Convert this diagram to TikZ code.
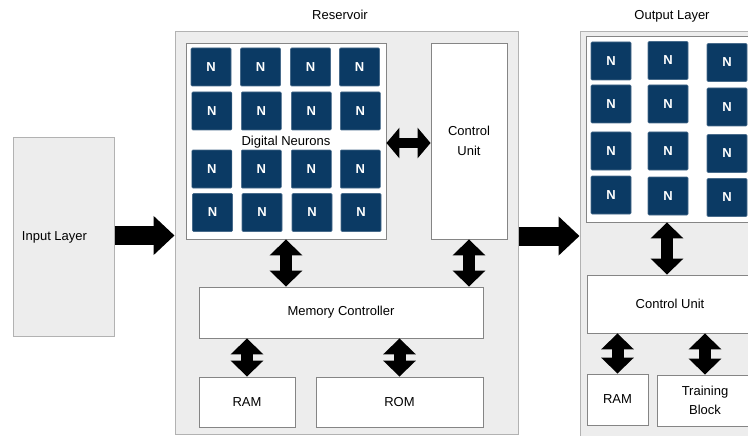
\documentclass[tikz,border=0pt]{standalone}
\usepackage{fontspec}
\setmainfont{Liberation Sans}
\usetikzlibrary{arrows.meta}

\definecolor{panelgray}{HTML}{EDEDED}
\definecolor{edgegray}{HTML}{B2B2B2}
\definecolor{boxedge}{HTML}{858585}
\definecolor{navy}{HTML}{0B3A64}

\tikzset{
  layer/.style={draw=edgegray, fill=panelgray, line width=1pt, inner sep=0pt},
  unit/.style={draw=boxedge, fill=white, line width=0.9pt, align=center, inner sep=0pt},
  neuron/.style={draw=navy!75!white, fill=navy, line width=0.6pt, minimum width=40pt,
    minimum height=38pt, text=white, font=\fontsize{13}{15}\selectfont\bfseries,
    inner sep=0pt, rounded corners=1pt},
  caption/.style={inner sep=0pt},
  biarrow/.style={line width=12pt,
    {Triangle[length=16pt,width=32pt]}-{Triangle[length=16pt,width=32pt]}},
  sidearrow/.style={line width=10pt,
    {Triangle[length=13pt,width=30pt]}-{Triangle[length=13pt,width=30pt]}},
  flowarrow/.style={line width=19pt, -{Triangle[length=21pt,width=38pt]}},
}

\begin{document}
\begin{tikzpicture}[x=1pt, y=-1pt, font=\fontsize{13}{19.5}\selectfont]
\useasboundingbox (0,0) rectangle (748,436);
\clip (0,0) rectangle (748,436);

% Input layer
\node[layer, minimum width=101pt, minimum height=198pt,
      label={[caption, xshift=-9pt]center:Input Layer}] (inp) at (63.5,237) {};

% Reservoir
\node[caption] (restitle) at (340,15) {Reservoir};
\node[layer, minimum width=343pt, minimum height=402pt] (res) at (346.5,233) {};
\node[unit, minimum width=200pt, minimum height=196pt] (neu) at (286,141) {};
\foreach \r/\y in {1/67, 2/111, 3/169, 4/212.5}{
  \foreach \c/\x in {1/211, 2/260.5, 3/310.5, 4/359.5}{
    \pgfmathsetmacro{\dx}{\r==4 ? 1.5 : (\r==1 ? 0 : 0.8)}
    \node[neuron] (n\r\c) at (\x+\dx,\y) {N};
  }
}
\node[caption] (digital) at (286,142) {Digital Neurons};
\node[unit, minimum width=76pt, minimum height=196pt] (ctrl) at (469,141) {Control\\Unit};
\node[unit, minimum width=284pt, minimum height=51pt] (mem) at (341,312.5) {Memory Controller};
\node[unit, minimum width=96pt, minimum height=50pt] (ram) at (247,402) {RAM};
\node[unit, minimum width=167pt, minimum height=50pt] (rom) at (399.5,402) {ROM};

% Output layer
\node[caption] (outtitle) at (672,16) {Output Layer};
\node[layer, minimum width=190pt, minimum height=420pt] (out) at (675,242) {};
\node[unit, minimum width=180pt, minimum height=186pt] (outpanel) at (676,129) {};
\foreach \c/\x/\ys in {1/611/{61,104,151,195}, 2/668/{60.5,104,151,196}, 3/727/{62.5,107,153.5,197.5}}{
  \foreach \y [count=\r] in \ys{
    \node[neuron] (o\r\c) at (\x,\y) {N};
  }
}
\node[unit, minimum width=166pt, minimum height=58pt] (octrl) at (670,304) {Control Unit};
\node[unit, minimum width=61pt, minimum height=51pt] (oram) at (617.5,399.5) {RAM};
\node[unit, minimum width=96pt, minimum height=51pt] (otrain) at (705,400.5) {Training\\Block};
\coordinate (olink) at (667,0);

% Data flow between layers
\draw[flowarrow] ([yshift=1.5pt]inp.east) -- ([yshift=1.5pt]inp.east -| res.west);
\draw[flowarrow] ([yshift=-3pt]res.east) -- ([yshift=-3pt]res.east -| out.west);

% Bidirectional links inside the reservoir
\draw[sidearrow] ([yshift=-2pt]neu.east) -- ([yshift=-2pt]ctrl.west);
\draw[biarrow] (neu.south) -- (mem.north -| neu.south);
\draw[biarrow] (ctrl.south) -- (mem.north -| ctrl.south);
\draw[biarrow] (mem.south -| ram.north) -- (ram.north);
\draw[biarrow] (mem.south -| rom.north) -- (rom.north);

% Bidirectional links inside the output layer
\draw[biarrow] (outpanel.south -| olink) -- (octrl.north -| olink);
\draw[biarrow] (octrl.south -| oram.north) -- (oram.north);
\draw[biarrow] (octrl.south -| otrain.north) -- (otrain.north);
\end{tikzpicture}
\end{document}
